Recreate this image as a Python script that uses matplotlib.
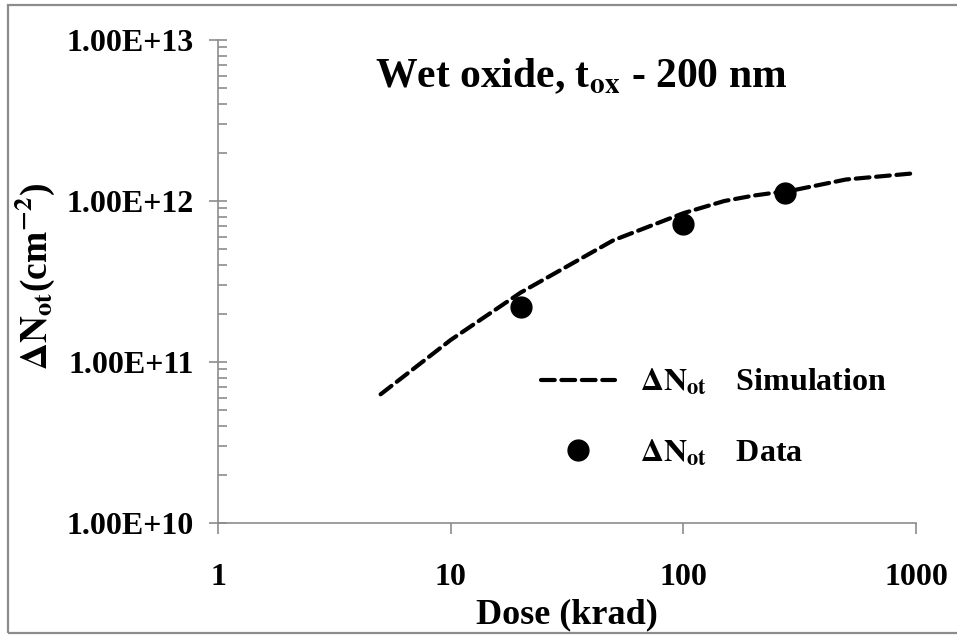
import matplotlib
matplotlib.use("Agg")
import matplotlib.pyplot as plt
from matplotlib.patches import Rectangle

plt.rcParams['font.family'] = ['Liberation Serif', 'DejaVu Serif']
plt.rcParams['font.weight'] = 'bold'
plt.rcParams['axes.labelweight'] = 'bold'
plt.rcParams['mathtext.fontset'] = 'stix'

# simulated curve (dose in krad, delta N_ot in cm^-2)
sim_dose = [5, 10, 20, 50, 100, 150, 200, 300, 500, 1000]
sim_not = [6.3e10, 1.37e11, 2.7e11, 5.7e11, 8.4e11, 1.0e12, 1.08e12, 1.17e12, 1.36e12, 1.49e12]

# measured points
data_dose = [20, 100, 274]
data_not = [2.2e11, 7.2e11, 1.12e12]

x_ticks = [1, 10, 100, 1000]
x_labels = ['1', '10', '100', '1000']
y_ticks = [1e10, 1e11, 1e12, 1e13]
y_labels = ['1.00E+10', '1.00E+11', '1.00E+12', '1.00E+13']

grey = '#8c8c8c'

fig = plt.figure(figsize=(9.57, 6.35), dpi=100)
fig.patches.append(Rectangle((8 / 957, 2 / 635), 960 / 957, 628 / 635,
                             transform=fig.transFigure, fill=False,
                             edgecolor=grey, linewidth=1.6))
ax = fig.add_axes([218 / 957, 1 - 523 / 635, 698 / 957, 483 / 635])

ax.plot(sim_dose, sim_not, color='black', linewidth=3.0,
        dashes=(3.3, 1.6), dash_capstyle='round',
        label=r'$\Delta\mathrm{N}_{\mathbf{ot}}\quad\,$Simulation')
ax.plot(data_dose, data_not, 'o', color='black', markersize=15,
        linestyle='none', label=r'$\Delta\mathrm{N}_{\mathbf{ot}}\quad\,$Data')

ax.set_xscale('log')
ax.set_yscale('log')
ax.set_xlim(1, 1000)
ax.set_ylim(1e10, 1e13)
ax.set_xticks(x_ticks)
ax.set_xticklabels(x_labels)
ax.set_yticks(y_ticks)
ax.set_yticklabels(y_labels)
ax.xaxis.set_minor_locator(matplotlib.ticker.NullLocator())

for s in ['top', 'right']:
    ax.spines[s].set_visible(False)
for s in ['left', 'bottom']:
    ax.spines[s].set_color(grey)
    ax.spines[s].set_linewidth(1.2)

ax.tick_params(axis='x', which='major', direction='out', length=8,
               width=1.2, color=grey, labelsize=23, pad=21)
ax.tick_params(axis='y', which='major', direction='inout', length=13,
               width=1.2, color=grey, labelsize=23, pad=11)
ax.tick_params(axis='y', which='minor', direction='in', length=6.5,
               width=1.2, color=grey)

ax.set_xlabel('Dose (krad)', fontsize=26)
ax.xaxis.set_label_coords(0.5, -0.155)
ax.set_ylabel(r'$\Delta\mathbf{N}_{\mathbf{ot}}$(cm$^{\mathbf{-2}}$)', fontsize=27)
ax.yaxis.set_label_coords(-0.230, 0.511)

ax.text(0.52, 0.925, r'Wet oxide, t$_{\mathrm{ox}}$ - 200 nm',
        transform=ax.transAxes, ha='center', va='center', fontsize=30)

ax.legend(loc='center left', bbox_to_anchor=(0.44, 0.218), frameon=False,
          fontsize=23, handlelength=2.3, handletextpad=0.8,
          labelspacing=1.25, borderpad=0)

fig.savefig('out.png', dpi=100)
